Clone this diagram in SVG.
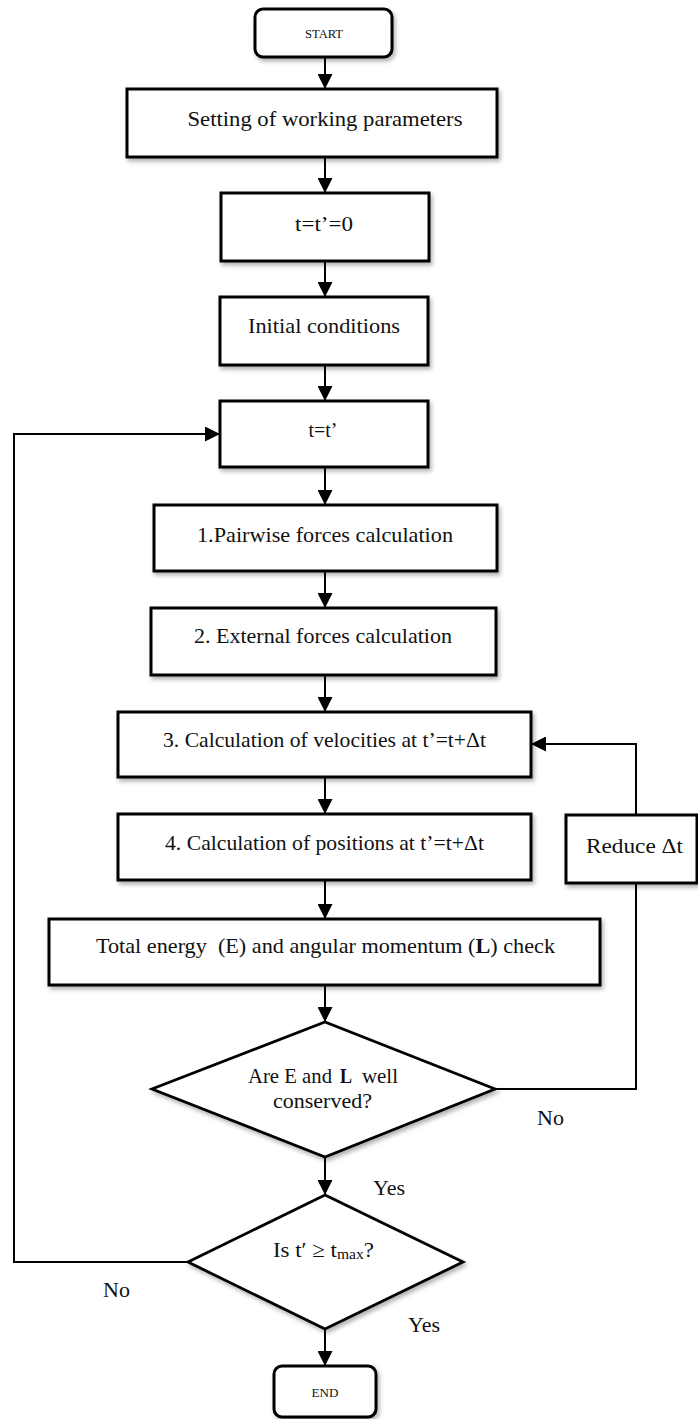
<svg xmlns="http://www.w3.org/2000/svg" width="698" height="1419" viewBox="0 0 698 1419">
<defs>
<filter id="sh" x="-10%" y="-10%" width="130%" height="140%">
<feDropShadow dx="2" dy="3" stdDeviation="2" flood-color="#000" flood-opacity="0.3"/>
</filter>
<marker id="ah" markerUnits="userSpaceOnUse" markerWidth="15" markerHeight="15" refX="15" refY="7.5" orient="auto">
<path d="M0,0 L15,7.5 L0,15 z" fill="#000"/>
</marker>
</defs>
<style>
.box{fill:#fff;stroke:#000;stroke-width:3;filter:url(#sh)}
.dia{fill:#fff;stroke:#000;stroke-width:2.8;stroke-linejoin:miter;filter:url(#sh)}
.t{font-family:"Liberation Serif","Times New Roman",serif;font-size:22px;fill:#111;text-anchor:middle}
.s{font-family:"Liberation Serif","Times New Roman",serif;font-size:12px;fill:#111;text-anchor:middle}
.l{font-family:"Liberation Serif","Times New Roman",serif;font-size:22px;fill:#111}
.b{font-weight:bold}
.c{fill:none;stroke:#000;stroke-width:2}
.pre{white-space:pre}
</style>
<rect width="698" height="1419" fill="#fff"/>
<g id="connectors">
<line class="c" x1="325" y1="57" x2="325" y2="89" marker-end="url(#ah)"/>
<line class="c" x1="325" y1="157" x2="325" y2="193" marker-end="url(#ah)"/>
<line class="c" x1="325" y1="261" x2="325" y2="297" marker-end="url(#ah)"/>
<line class="c" x1="325" y1="365" x2="325" y2="401" marker-end="url(#ah)"/>
<line class="c" x1="325" y1="467" x2="325" y2="505" marker-end="url(#ah)"/>
<line class="c" x1="325" y1="571" x2="325" y2="608" marker-end="url(#ah)"/>
<line class="c" x1="325" y1="675" x2="325" y2="712" marker-end="url(#ah)"/>
<line class="c" x1="325" y1="777" x2="325" y2="814" marker-end="url(#ah)"/>
<line class="c" x1="325" y1="880" x2="325" y2="919" marker-end="url(#ah)"/>
<line class="c" x1="325" y1="985" x2="325" y2="1022" marker-end="url(#ah)"/>
<line class="c" x1="325" y1="1157" x2="325" y2="1195" marker-end="url(#ah)"/>
<line class="c" x1="325" y1="1329" x2="325" y2="1366" marker-end="url(#ah)"/>
<polyline class="c" points="495,1089 636,1089 636,883"/>
<polyline class="c" points="636,815 636,744 531,744" marker-end="url(#ah)"/>
<polyline class="c" points="188,1262 14,1262 14,434 220,434" marker-end="url(#ah)"/>
</g>
<g id="start">
<rect class="box" x="255" y="9" width="137" height="48" rx="8"/>
<text class="s" x="324" y="38" textLength="38" lengthAdjust="spacingAndGlyphs">START</text>
</g>
<g id="setting">
<rect class="box" x="127" y="89" width="370" height="68"/>
<text class="t" x="325" y="126" textLength="275" lengthAdjust="spacingAndGlyphs">Setting of working parameters</text>
</g>
<g id="t0">
<rect class="box" x="221" y="193" width="208" height="68"/>
<text class="t" x="324" y="231" textLength="58" lengthAdjust="spacingAndGlyphs">t=t’=0</text>
</g>
<g id="initial">
<rect class="box" x="220" y="297" width="208" height="68"/>
<text class="t" x="324" y="333" textLength="152" lengthAdjust="spacingAndGlyphs">Initial conditions</text>
</g>
<g id="tt">
<rect class="box" x="220" y="401" width="208" height="66"/>
<text class="t" x="323" y="437" textLength="29" lengthAdjust="spacingAndGlyphs">t=t’</text>
</g>
<g id="pairwise">
<rect class="box" x="154" y="505" width="343" height="66"/>
<text class="t" x="325" y="542" textLength="256" lengthAdjust="spacingAndGlyphs">1.Pairwise forces calculation</text>
</g>
<g id="external">
<rect class="box" x="151" y="608" width="345" height="67"/>
<text class="t" x="323" y="643" textLength="258" lengthAdjust="spacingAndGlyphs">2. External forces calculation</text>
</g>
<g id="velocities">
<rect class="box" x="118" y="712" width="413" height="65"/>
<text class="t" x="324.5" y="747" textLength="323" lengthAdjust="spacingAndGlyphs">3. Calculation of velocities at t’=t+Δt</text>
</g>
<g id="positions">
<rect class="box" x="118" y="814" width="413" height="66"/>
<text class="t" x="324.5" y="850" textLength="319" lengthAdjust="spacingAndGlyphs">4. Calculation of positions at t’=t+Δt</text>
</g>
<g id="energy">
<rect class="box" x="49" y="919" width="551" height="66"/>
<text class="t pre" x="325.5" y="953" textLength="459" lengthAdjust="spacingAndGlyphs">Total energy  (E) and angular momentum (<tspan class="b">L</tspan>) check</text>
</g>
<g id="reduce">
<rect class="box" x="566" y="815" width="131" height="68"/>
<text class="t" x="634.5" y="853" textLength="97" lengthAdjust="spacingAndGlyphs">Reduce Δt</text>
</g>
<g id="conserved">
<polygon class="dia" points="325,1022 495,1089 325,1157 152,1089"/>
<text class="l" x="248" y="1083" textLength="84" lengthAdjust="spacingAndGlyphs">Are E and</text>
<text class="l b" x="340" y="1083" textLength="12" lengthAdjust="spacingAndGlyphs">L</text>
<text class="l" x="362" y="1083" textLength="36" lengthAdjust="spacingAndGlyphs">well</text>
<text class="t" x="322.5" y="1108" textLength="99" lengthAdjust="spacingAndGlyphs">conserved?</text>
</g>
<g id="tmax">
<polygon class="dia" points="325,1195 463,1262 325,1329 188,1262"/>
<text class="l" x="273" y="1257" textLength="101" lengthAdjust="spacingAndGlyphs">Is t′ ≥ t<tspan font-size="15" dy="2">max</tspan><tspan dy="-2">?</tspan></text>
</g>
<g id="end">
<rect class="box" x="274" y="1366" width="102" height="51" rx="8"/>
<text class="s" x="325" y="1397" textLength="27" lengthAdjust="spacingAndGlyphs">END</text>
</g>
<g id="labels">
<text class="l" x="537" y="1125">No</text>
<text class="l" x="373" y="1195">Yes</text>
<text class="l" x="103" y="1297">No</text>
<text class="l" x="408" y="1332">Yes</text>
</g>
</svg>
